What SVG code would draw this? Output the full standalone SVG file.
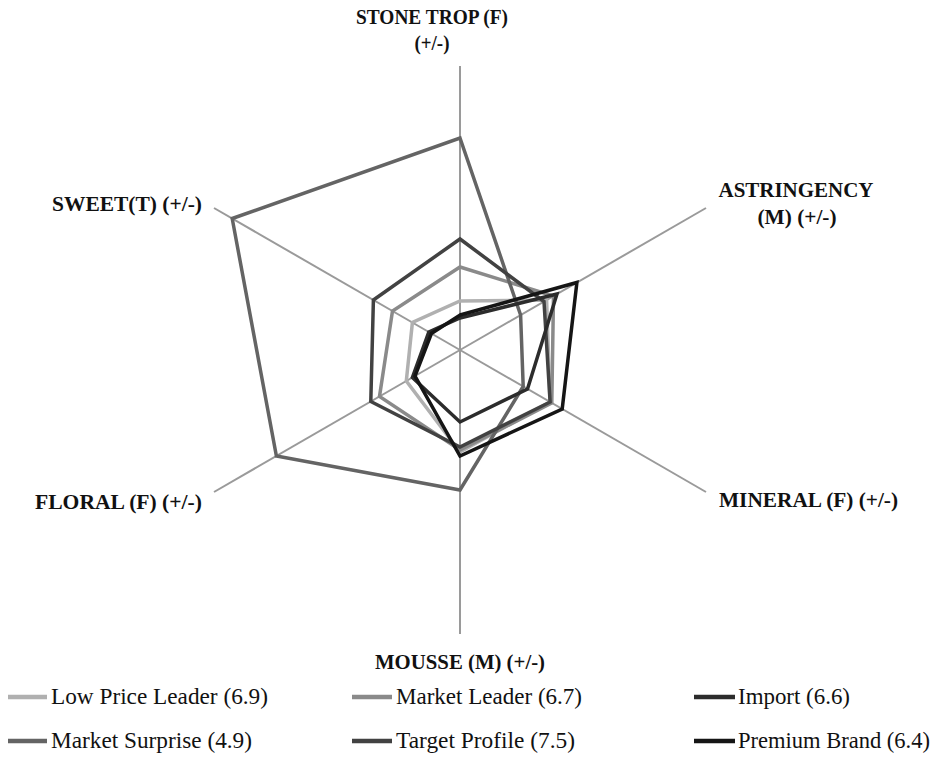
<svg xmlns="http://www.w3.org/2000/svg" width="940" height="758" viewBox="0 0 940 758">
<style>
.ax{stroke:#9a9a9a;stroke-width:2;fill:none}
.s{fill:none;stroke-width:3.5;stroke-linejoin:miter}
.lbl{font-family:"Liberation Serif","Times New Roman",serif;font-weight:bold;font-size:22px;fill:#111}
.lg{font-family:"Liberation Serif","Times New Roman",serif;font-size:23px;fill:#111}
.sw{stroke-width:4.5;fill:none}
.c1{stroke:#b0b0b0}.c2{stroke:#8a8a8a}.c3{stroke:#2c2c2c}.c4{stroke:#646464}.c5{stroke:#424242}.c6{stroke:#151515}
</style>
<rect width="940" height="758" fill="#fff"/>
<g id="axes">
<line class="ax" x1="460" y1="350" x2="460" y2="66"/>
<line class="ax" x1="460" y1="350" x2="706" y2="208"/>
<line class="ax" x1="460" y1="350" x2="706" y2="492"/>
<line class="ax" x1="460" y1="350" x2="460" y2="634"/>
<line class="ax" x1="460" y1="350" x2="214" y2="492"/>
<line class="ax" x1="460" y1="350" x2="214" y2="208"/>
</g>
<g id="series">
<polygon id="low-price-leader" class="s c1" points="460,301 546.6,300 550,402 460,452 406.3,381 412.4,322.5"/>
<polygon id="market-leader" class="s c2" points="460,267 553.5,296 551.8,403 460,450 379.5,396.5 392.5,311"/>
<polygon id="market-surprise" class="s c4" points="460,138 520.6,315 523.2,386.5 460,490 276.4,456 232.2,218.5"/>
<polygon id="target-profile" class="s c5" points="460,239 544,301.5 550.1,402 460,447 370.8,401.5 373.4,300"/>
<polygon id="import" class="s c3" points="460,318 557,294 527.5,389 460,422 412.4,377.5 428.8,332"/>
<polygon id="premium-brand" class="s c6" points="460,315 576.9,282.5 562.2,409 460,456 415,376 431.4,333.5"/>
</g>
<g id="axis-labels">
<text class="lbl" x="432" y="24" text-anchor="middle" textLength="152" lengthAdjust="spacingAndGlyphs">STONE TROP (F)</text>
<text class="lbl" x="432" y="50" text-anchor="middle" textLength="35" lengthAdjust="spacingAndGlyphs">(+/-)</text>
<text class="lbl" x="796" y="197" text-anchor="middle" textLength="155" lengthAdjust="spacingAndGlyphs">ASTRINGENCY</text>
<text class="lbl" x="797" y="224" text-anchor="middle" textLength="79" lengthAdjust="spacingAndGlyphs">(M) (+/-)</text>
<text class="lbl" x="52" y="211" textLength="150" lengthAdjust="spacingAndGlyphs">SWEET(T) (+/-)</text>
<text class="lbl" x="35" y="509" textLength="167" lengthAdjust="spacingAndGlyphs">FLORAL (F) (+/-)</text>
<text class="lbl" x="719" y="507" textLength="179" lengthAdjust="spacingAndGlyphs">MINERAL (F) (+/-)</text>
<text class="lbl" x="460" y="669" text-anchor="middle" textLength="170" lengthAdjust="spacingAndGlyphs">MOUSSE (M) (+/-)</text>
</g>
<g id="legend">
<line class="sw c1" x1="8" y1="697" x2="47" y2="697"/>
<text class="lg" x="51" y="704" textLength="217" lengthAdjust="spacingAndGlyphs">Low Price Leader (6.9)</text>
<line class="sw c2" x1="352" y1="697" x2="392" y2="697"/>
<text class="lg" x="396" y="704" textLength="186" lengthAdjust="spacingAndGlyphs">Market Leader (6.7)</text>
<line class="sw c3" x1="694" y1="697" x2="735" y2="697"/>
<text class="lg" x="738" y="704" textLength="112" lengthAdjust="spacingAndGlyphs">Import (6.6)</text>
<line class="sw c4" x1="8" y1="741" x2="47" y2="741"/>
<text class="lg" x="51" y="748" textLength="201" lengthAdjust="spacingAndGlyphs">Market Surprise (4.9)</text>
<line class="sw c5" x1="352" y1="741" x2="392" y2="741"/>
<text class="lg" x="396" y="748" textLength="179" lengthAdjust="spacingAndGlyphs">Target Profile (7.5)</text>
<line class="sw c6" x1="694" y1="741" x2="735" y2="741"/>
<text class="lg" x="738" y="748" textLength="192" lengthAdjust="spacingAndGlyphs">Premium Brand (6.4)</text>
</g>
</svg>
